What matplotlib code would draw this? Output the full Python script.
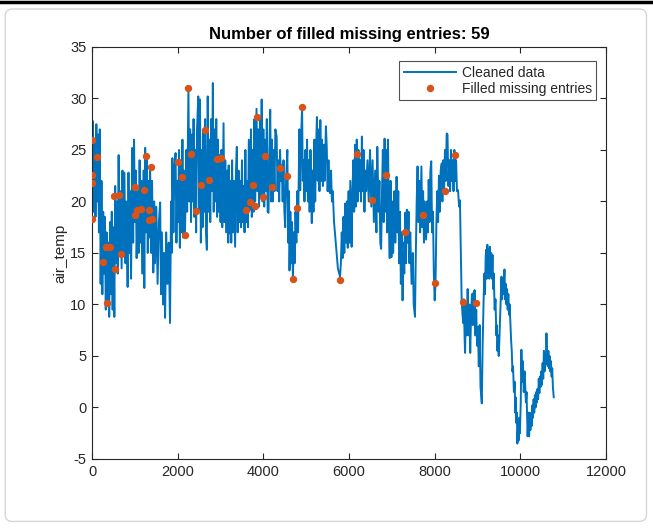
import matplotlib
matplotlib.use("Agg")
import matplotlib.pyplot as plt
from matplotlib.patches import FancyBboxPatch
from matplotlib.lines import Line2D

title = "Number of filled missing entries: 59"
ylabel = "air_temp"
legend_labels = ["Cleaned data", "Filled missing entries"]
xticks = [0, 2000, 4000, 6000, 8000, 10000, 12000]
yticks = [-5, 0, 5, 10, 15, 20, 25, 30, 35]

# Cleaned data: (index, value) vertices
clean_pts = [
    (0, 22), (20, 27.8), (40, 19), (60, 26), (80, 18.5), (100, 27.5), (120, 20), (140, 26.5), (160, 17), (180, 27),
    (200, 12), (220, 22), (240, 11), (260, 19), (280, 13), (300, 18.5), (320, 9.5), (340, 17), (360, 10), (380, 16),
    (400, 8.8), (420, 18), (440, 11), (460, 19), (480, 9.5), (500, 17.5), (520, 8.8),
    (540, 21.5), (560, 14), (580, 20), (600, 13), (620, 24.5), (640, 15), (660, 21), (690, 13.5), (710, 23), (730, 15),
    (755, 22.8), (780, 14), (800, 20), (830, 11.7), (850, 22.8), (870, 15), (890, 21), (910, 12.5), (940, 25.2),
    (960, 16), (980, 26), (1000, 18),
    (1020, 23), (1040, 14.5), (1070, 21), (1090, 15), (1110, 24), (1130, 16), (1150, 22), (1170, 13), (1200, 23),
    (1220, 11.6), (1240, 25.2), (1260, 17), (1280, 24.5), (1300, 15), (1320, 22), (1340, 16.5), (1355, 23.4),
    (1380, 15), (1400, 22), (1430, 13.1), (1450, 20), (1470, 14),
    (1500, 19.5), (1530, 12), (1560, 18), (1590, 19.9), (1610, 11), (1630, 17), (1660, 10), (1680, 15), (1705, 8.7),
    (1730, 17), (1760, 12), (1790, 16), (1820, 8.2), (1845, 20), (1860, 15), (1875, 24.2), (1900, 17), (1920, 23),
    (1950, 24.7), (1970, 16), (1990, 22),
    (2010, 18), (2030, 25), (2050, 15.5), (2070, 24), (2090, 17), (2110, 26), (2130, 16.5), (2150, 23), (2170, 16.9),
    (2200, 25), (2220, 19), (2250, 31.1), (2270, 20), (2290, 27), (2310, 18), (2330, 26.5), (2350, 20), (2370, 28),
    (2390, 18.5), (2410, 25), (2430, 17), (2450, 27), (2480, 30.2), (2500, 19),
    (2520, 29.9), (2540, 16), (2560, 25), (2580, 17.5), (2600, 27), (2620, 19), (2640, 28), (2660, 17), (2680, 15.3),
    (2700, 30.2), (2720, 19), (2740, 26), (2760, 18), (2780, 28), (2800, 21), (2820, 31.5), (2840, 19), (2860, 27),
    (2880, 20), (2900, 28), (2920, 18.5), (2940, 26), (2960, 19), (2980, 24.5),
    (3000, 18), (3020, 25), (3040, 17.5), (3070, 27.6), (3090, 18), (3110, 24), (3130, 17), (3160, 23), (3180, 16),
    (3190, 23.5), (3210, 16.9), (3230, 22), (3250, 16), (3270, 24), (3290, 17), (3310, 22), (3340, 15.6), (3360, 23),
    (3380, 25.3), (3400, 17), (3420, 23), (3440, 18), (3460, 22), (3480, 17.5), (3500, 24), (3520, 18), (3540, 21.5),
    (3560, 17), (3580, 25), (3600, 18),
    (3620, 22), (3640, 17.5), (3660, 26), (3690, 19.2), (3710, 27), (3730, 18.5), (3750, 25), (3770, 19), (3790, 28),
    (3810, 20), (3840, 29), (3860, 21), (3880, 27), (3900, 19.5), (3920, 28), (3940, 20.5), (3960, 29.9), (3980, 20),
    (4000, 27), (4020, 19.5), (4040, 26), (4060, 21), (4080, 28), (4100, 19), (4120, 18.9), (4140, 25), (4160, 28.9),
    (4180, 20), (4200, 26),
    (4220, 20), (4240, 25), (4260, 21), (4280, 27), (4310, 26.3), (4330, 21), (4350, 24), (4370, 20), (4390, 25),
    (4410, 22), (4430, 23.5), (4450, 20), (4470, 24), (4490, 19), (4510, 17.5), (4530, 22), (4560, 25), (4580, 16),
    (4600, 21),
    (4610, 13.3), (4630, 19), (4650, 14), (4670, 18), (4690, 12.5), (4710, 17), (4730, 14), (4750, 19), (4770, 16),
    (4790, 21), (4810, 17), (4840, 27), (4860, 21.1), (4880, 26), (4904, 29.2), (4920, 22), (4940, 24), (4960, 20),
    (4980, 25), (5000, 21),
    (5020, 26), (5040, 20), (5060, 24), (5080, 19), (5100, 25), (5130, 17.9), (5150, 23), (5170, 19), (5190, 26),
    (5210, 20), (5230, 25), (5250, 28.2), (5270, 22), (5290, 27), (5310, 21), (5330, 27.9), (5350, 22), (5370, 26),
    (5390, 21.5), (5410, 25.5), (5430, 22), (5460, 27.3), (5480, 25.3), (5500, 21),
    (5520, 24), (5540, 21), (5560, 20.8), (5580, 23), (5600, 20), (5620, 21), (5650, 18), (5680, 16.5), (5710, 15),
    (5740, 13.5), (5770, 13), (5790, 12.7), (5810, 14), (5830, 17), (5850, 14.5), (5870, 18.5), (5890, 15),
    (5910, 19.8), (5930, 16), (5950, 20), (5970, 15.5), (5990, 21), (6010, 16), (6030, 22), (6060, 15.6), (6080, 21),
    (6100, 24), (6120, 19), (6140, 25.5), (6160, 19.5), (6180, 26), (6200, 20), (6220, 25), (6240, 21), (6260, 24),
    (6280, 20), (6300, 26.3), (6320, 21), (6340, 25), (6360, 19), (6380, 23),
    (6400, 21), (6430, 24), (6460, 20), (6490, 25), (6520, 19.5), (6550, 24), (6580, 18), (6610, 23), (6640, 17),
    (6660, 25.3), (6690, 19), (6710, 22), (6730, 16), (6750, 15.4), (6770, 21), (6790, 25), (6810, 18), (6830, 26.1),
    (6850, 19), (6870, 25), (6890, 17), (6910, 26), (6930, 18), (6950, 14.5), (6970, 22),
    (6990, 14.6), (7010, 20), (7030, 15), (7060, 21), (7080, 16), (7110, 22.4), (7130, 17), (7150, 21), (7170, 14),
    (7190, 19), (7210, 12), (7230, 17), (7250, 10.4), (7270, 16), (7290, 13), (7310, 18.9), (7330, 14), (7350, 19.2),
    (7370, 16), (7390, 19), (7410, 14), (7430, 17), (7460, 12), (7490, 15), (7510, 10), (7540, 8.8),
    (7560, 15), (7580, 20), (7600, 23.4), (7620, 18), (7640, 22), (7660, 17), (7690, 23.4), (7710, 17.5), (7730, 21),
    (7750, 16), (7770, 20), (7800, 16.3), (7820, 20), (7840, 17), (7860, 22.1), (7880, 18), (7900, 23), (7920, 23.9),
    (7940, 17), (7960, 19), (7980, 13), (8000, 10.4), (8020, 12),
    (8040, 18), (8060, 21), (8080, 18), (8100, 22.5), (8120, 19), (8140, 23), (8165, 23.7), (8180, 20), (8200, 24),
    (8220, 21), (8240, 25), (8260, 22), (8280, 26.6), (8300, 26.5), (8320, 21.5), (8340, 24), (8360, 21), (8380, 25),
    (8400, 22), (8420, 24), (8440, 21), (8460, 25), (8480, 22), (8500, 24), (8520, 21), (8545, 21.1), (8570, 19.5),
    (8590, 20.1), (8610, 15), (8630, 10.4), (8650, 9), (8665, 8.2),
    (8680, 10.5), (8700, 6.5), (8710, 5.3), (8730, 10), (8750, 7), (8770, 11.5), (8790, 7), (8810, 10), (8830, 5.3),
    (8850, 9), (8870, 11), (8890, 8), (8900, 11.1), (8920, 8.5), (8930, 11.4), (8950, 7), (8970, 9.5), (8990, 6),
    (9010, 7.8), (9030, 4), (9050, 8), (9070, 2), (9100, 0.4), (9120, 6), (9140, 10), (9160, 13), (9175, 11),
    (9190, 14.5), (9200, 15.3), (9215, 12.5), (9230, 15.8), (9245, 13), (9260, 15.4), (9275, 12.5), (9290, 15.6),
    (9305, 12.8), (9320, 15), (9335, 12.5), (9350, 14.8), (9365, 11.5), (9380, 13),
    (9400, 9.5), (9420, 10.5), (9440, 7), (9450, 8), (9465, 5.5), (9480, 7), (9495, 5), (9510, 6.5),
    (9530, 9), (9545, 11), (9560, 12.7), (9575, 10.5), (9590, 12.5), (9605, 11), (9630, 13.4), (9645, 10.5),
    (9660, 12), (9675, 10), (9690, 11.5), (9705, 9.5), (9720, 11), (9735, 9), (9750, 10), (9770, 8), (9785, 6.5),
    (9800, 5.5), (9815, 3.5), (9830, 4), (9850, 1.5), (9870, 2.5), (9880, -0.5), (9890, 1.0), (9905, -1.5),
    (9920, -0.5), (9930, -3.5), (9950, -1.5), (9960, -3.2), (9975, -1), (9990, -2.5), (10010, 0.5), (10025, 5.6),
    (10040, 2.5), (10060, 4.5), (10080, 1.5), (10100, 3.5), (10115, 2),
    (10130, 0.5), (10145, 1.5), (10160, -1), (10170, -2.8), (10190, -0.5), (10205, -2.8), (10220, -0.5),
    (10235, -2.2), (10250, -0.8), (10265, -1.8), (10280, 0.2), (10295, -1), (10310, 0.8), (10325, -0.5), (10340, 1.2),
    (10355, 0), (10370, 1.5), (10385, 0.5), (10400, 1.8), (10415, 0.8), (10430, 2.8), (10445, 1.4), (10460, 3),
    (10475, 2), (10490, 3.5), (10505, 2.2), (10520, 4.3), (10535, 2.8), (10550, 5.5), (10565, 3.5), (10580, 5.2),
    (10595, 4.2), (10610, 7.2), (10625, 5), (10640, 4), (10655, 5.5), (10670, 3.8), (10685, 5), (10700, 3.5),
    (10715, 4.5), (10730, 3), (10745, 3.8), (10760, 2), (10780, 1.0),
]
clean_x = [p[0] for p in clean_pts]
clean_y = [p[1] for p in clean_pts]

# Filled missing entries (59 points)
filled_x = [0, 124, 7, 7, 7, 257, 334, 428, 350, 545, 685, 514, 630, 1012, 1214, 1261, 1370, 996, 1058, 1152,
            1324, 1324, 1401,
            2242, 2631, 2320, 2008, 2101, 2180, 2436, 2553, 2740, 2912, 3019, 3605, 3682,
            3861, 4904, 4047, 4382, 4561, 3752, 4203, 3993, 3799, 4779, 4693,
            6195, 6545, 6865, 5783, 7301,
            8483, 8249, 7729, 8002, 8670, 8960]
filled_y = [26.0, 24.3, 22.6, 21.8, 18.3, 14.1, 15.6, 15.6, 10.1, 13.4, 14.9, 20.5, 20.6, 21.4, 21.1, 24.4, 23.3,
            18.7, 19.2, 19.3, 19.2, 18.2, 18.3,
            31.0, 26.9, 24.6, 23.8, 22.4, 16.7, 19.1, 21.6, 22.1, 24.1, 24.2, 19.2, 19.9,
            28.2, 29.2, 24.4, 23.2, 22.5, 21.6, 21.4, 20.4, 19.6, 19.4, 12.5,
            24.6, 20.1, 22.6, 12.4, 17.0,
            24.5, 21.0, 18.7, 12.1, 10.2, 10.1]

plt.rcParams['font.family'] = ['Liberation Sans', 'DejaVu Sans']
fig = plt.figure(figsize=(6.53, 5.31), dpi=100)
fig.patch.set_facecolor('white')

# outer frame decorations
fig.add_artist(FancyBboxPatch((0.008, 0.018), 0.982, 0.965, boxstyle="round,pad=0,rounding_size=0.012",
                              transform=fig.transFigure, fill=False, edgecolor='#d6d6d6', linewidth=1.0))
fig.add_artist(Line2D([0, 1], [0.997, 0.997], transform=fig.transFigure, color='black', linewidth=2.5))

ax = fig.add_axes([0.141, 0.1356, 0.787, 0.776])
dark = '#262626'
ax.plot(clean_x, clean_y, color='#0072BD', linewidth=1.4, label=legend_labels[0], zorder=2)
ax.plot(filled_x, filled_y, linestyle='none', marker='o', markersize=4.3, color='#D95319',
        markeredgecolor='#D95319', label=legend_labels[1], zorder=3)

ax.set_xlim(0, 12000)
ax.set_ylim(-5, 35)
ax.set_xticks(xticks)
ax.set_yticks(yticks)
ax.set_xticklabels([str(t) for t in xticks])
ax.set_yticklabels([str(t) for t in yticks])
ax.tick_params(direction='in', top=True, right=True, length=4, width=0.8, colors=dark, labelsize=10.5,
               labelcolor=dark, pad=4)
for s in ax.spines.values():
    s.set_color(dark)
    s.set_linewidth(0.8)
ax.set_title(title, fontsize=12, fontweight='bold', color='black', pad=6)
ax.set_ylabel(ylabel, fontsize=11, color=dark, labelpad=2)

leg = ax.legend(loc='upper right', bbox_to_anchor=(0.981, 0.965), borderaxespad=0, fontsize=10,
                frameon=True, fancybox=False, edgecolor=dark, handlelength=3.8, handletextpad=0.4,
                borderpad=0.3, labelspacing=0.15, numpoints=1)
leg.get_frame().set_linewidth(0.8)
for t in leg.get_texts():
    t.set_color(dark)

fig.savefig('out.png', dpi=100, facecolor='white')
